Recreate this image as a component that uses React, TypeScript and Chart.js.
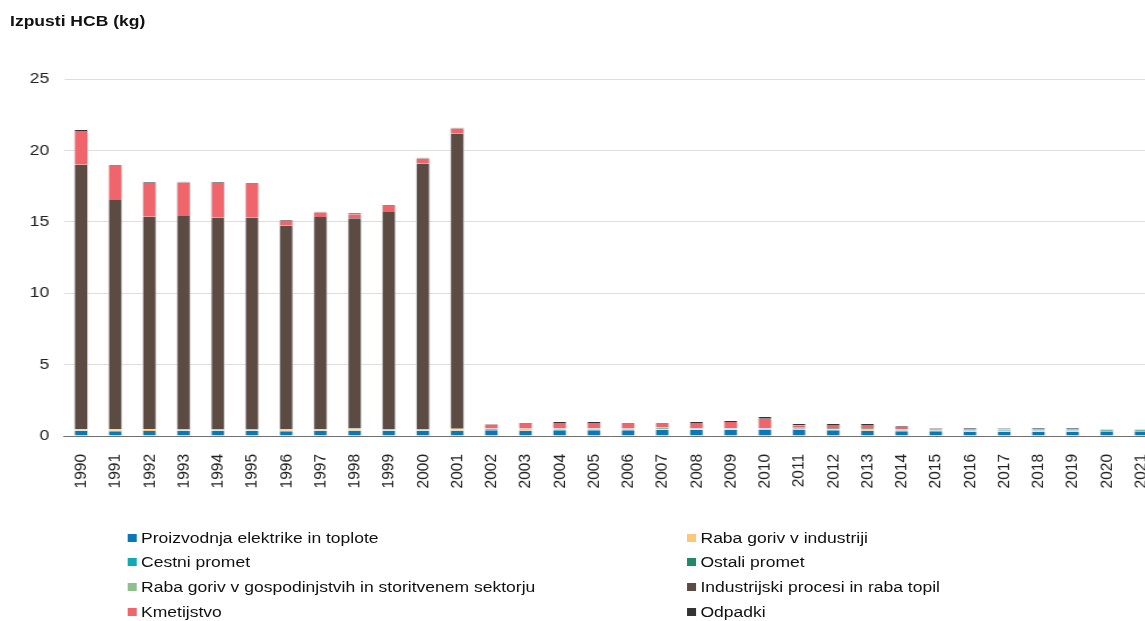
import React, { useEffect, useRef } from "react";
import { Chart, registerables } from "chart.js";

Chart.register(...registerables);

// Years on the category axis
const YEARS = [
  "1990", "1991", "1992", "1993", "1994", "1995", "1996", "1997", "1998", "1999",
  "2000", "2001", "2002", "2003", "2004", "2005", "2006", "2007", "2008", "2009",
  "2010", "2011", "2012", "2013", "2014", "2015", "2016", "2017", "2018", "2019",
  "2020", "2021",
];

// HCB emissions by sector, kg
const ELEKTRIKA = [
  0.36, 0.33, 0.35, 0.36, 0.36, 0.36, 0.33, 0.37, 0.37, 0.36, 0.36, 0.37,
  0.40, 0.36, 0.41, 0.41, 0.41, 0.43, 0.43, 0.43, 0.43, 0.43, 0.40, 0.37, 0.33, 0.33,
  0.28, 0.28, 0.28, 0.28, 0.28, 0.28,
];
const INDUSTRIJA_GORIVA = [
  0.05, 0.08, 0.07, 0.03, 0.03, 0.03, 0.07, 0.03, 0.06, 0.03, 0.03, 0.06,
  0.02, 0.06, 0.02, 0.02, 0.02, 0.02, 0.02, 0.02, 0.02, 0.02, 0.05, 0.05, 0.03, 0.04,
  0.05, 0.05, 0.06, 0.06, 0.02, 0.02,
];
const CESTNI_PROMET = [
  0.02, 0.02, 0.02, 0.02, 0.02, 0.02, 0.02, 0.02, 0.02, 0.02, 0.02, 0.02,
  0.05, 0.04, 0.05, 0.05, 0.04, 0.02, 0.03, 0.03, 0.05, 0.04, 0.03, 0.03, 0.05, 0.03,
  0.05, 0.05, 0.04, 0.04, 0.05, 0.05,
];
const OSTALI_PROMET = [
  0.01, 0.01, 0.01, 0.01, 0.01, 0.01, 0.01, 0.01, 0.01, 0.01, 0.01, 0.01,
  0.01, 0.01, 0.01, 0.01, 0.01, 0.01, 0.01, 0.01, 0.01, 0.01, 0.01, 0.02, 0.01, 0.01,
  0.01, 0.05, 0.02, 0.02, 0.05, 0.05,
];
const GOSPODINJSTVA = [
  0.04, 0.03, 0.03, 0.05, 0.05, 0.05, 0.04, 0.05, 0.06, 0.05, 0.05, 0.05,
  0.02, 0.03, 0.03, 0.03, 0.03, 0.12, 0.03, 0.03, 0.02, 0.02, 0.02, 0.04, 0.02, 0.01,
  0.02, 0.05, 0.02, 0.02, 0.05, 0.05,
];
const INDUSTRIJSKI_PROCESI = [
  18.52, 16.06, 14.88, 14.94, 14.82, 14.82, 14.26, 14.86, 14.72, 15.22, 18.62, 20.66,
  0.02, 0.02, 0.02, 0.02, 0.02, 0.02, 0.02, 0.02, 0.02, 0.05, 0.05, 0.05, 0.02, 0.03,
  0.03, 0.02, 0.04, 0.04, 0.01, 0.01,
];
const KMETIJSTVO = [
  2.36, 2.40, 2.35, 2.34, 2.42, 2.37, 0.35, 0.32, 0.29, 0.44, 0.34, 0.36,
  0.28, 0.33, 0.37, 0.37, 0.33, 0.24, 0.37, 0.44, 0.66, 0.19, 0.21, 0.21, 0.19, 0.07,
  0.07, 0.02, 0.05, 0.05, 0.01, 0.01,
];
const ODPADKI = [
  0.07, 0.05, 0.06, 0.06, 0.06, 0.06, 0.05, 0.05, 0.06, 0.05, 0.06, 0.06,
  0.04, 0.06, 0.07, 0.07, 0.05, 0.05, 0.07, 0.07, 0.12, 0.08, 0.07, 0.07, 0.05, 0.04,
  0.05, 0.04, 0.05, 0.05, 0.02, 0.02,
];

// Y-axis ticks
const Y_TICKS = [0, 5, 10, 15, 20, 25];

const SERIES = [
  { label: "Proizvodnja elektrike in toplote", data: ELEKTRIKA, color: "#0a78b8" },
  { label: "Raba goriv v industriji", data: INDUSTRIJA_GORIVA, color: "#fcc777" },
  { label: "Cestni promet", data: CESTNI_PROMET, color: "#12a9b3" },
  { label: "Ostali promet", data: OSTALI_PROMET, color: "#1e8a66" },
  { label: "Raba goriv v gospodinjstvih in storitvenem sektorju", data: GOSPODINJSTVA, color: "#8fbf8c" },
  { label: "Industrijski procesi in raba topil", data: INDUSTRIJSKI_PROCESI, color: "#5b4b43" },
  { label: "Kmetijstvo", data: KMETIJSTVO, color: "#f0646b" },
  { label: "Odpadki", data: ODPADKI, color: "#333333" },
];

const FONT = "'Liberation Sans', Arial, sans-serif";
const STRETCH = 1.13;
const CANVAS_W = 1050;
const CANVAS_H = 520;

export default function App() {
  const canvasRef = useRef<HTMLCanvasElement | null>(null);

  useEffect(() => {
    document.body.style.margin = "0";
    document.body.style.overflow = "hidden";
    const canvas = canvasRef.current;
    if (!canvas) return;
    const chart = new Chart(canvas, {
      type: "bar",
      data: {
        labels: YEARS,
        datasets: SERIES.map((s) => ({
          label: s.label,
          data: s.data,
          backgroundColor: s.color,
          borderColor: "rgba(205,205,205,0.8)",
          borderWidth: { left: 1, right: 1, top: 0, bottom: 0 },
          borderSkipped: false,
          categoryPercentage: 1,
          barPercentage: 0.42,
        })),
      },
      options: {
        responsive: false,
        animation: false,
        devicePixelRatio: 1,
        layout: { padding: { top: 79, right: CANVAS_W - 1024.8, bottom: 0, left: 0 } },
        plugins: {
          legend: { display: false },
          tooltip: { enabled: false },
        },
        scales: {
          x: {
            stacked: true,
            grid: { display: false },
            border: { display: true, color: "#707070", width: 1 },
            ticks: {
              autoSkip: false,
              minRotation: 90,
              maxRotation: 90,
              padding: 10,
              color: "#222",
              font: { family: FONT, size: 15.5 },
            },
            afterFit: (scale: any) => {
              scale.height = CANVAS_H - 436;
            },
          },
          y: {
            stacked: true,
            min: 0,
            max: 25,
            afterBuildTicks: (scale: any) => {
              scale.ticks = Y_TICKS.map((v) => ({ value: v }));
            },
            grid: { color: "#dedede", drawTicks: false, lineWidth: 1 },
            border: { display: false },
            ticks: {
              padding: 13,
              color: "#222",
              font: { family: FONT, size: 15.5 },
            },
            afterFit: (scale: any) => {
              scale.width = 56.6;
            },
          },
        },
      },
    });
    return () => chart.destroy();
  }, []);

  const rowTop = (i: number) => 537.5 + i * 24.8 - 10;

  return (
    <div style={{ position: "relative", width: 1145, height: 621, overflow: "hidden", background: "#fff" }}>
      <div
        style={{
          position: "absolute",
          left: 0,
          top: 0,
          width: CANVAS_W,
          height: 621,
          transform: `scaleX(${STRETCH})`,
          transformOrigin: "0 0",
          fontFamily: FONT,
          color: "#111",
        }}
      >
        <div
          style={{
            position: "absolute",
            left: 8.9,
            top: 13,
            fontWeight: "bold",
            fontSize: 15.5,
            lineHeight: "15.5px",
            whiteSpace: "nowrap",
          }}
        >
          Izpusti HCB (kg)
        </div>
        <canvas
          ref={canvasRef}
          width={CANVAS_W}
          height={CANVAS_H}
          style={{ position: "absolute", left: 0, top: 0, width: CANVAS_W, height: CANVAS_H }}
        />
        {SERIES.map((s, i) => {
          const col = i % 2;
          const row = Math.floor(i / 2);
          return (
            <div
              key={s.label}
              style={{
                position: "absolute",
                left: col === 0 ? 113.3 : 608.4,
                top: rowTop(row),
                height: 20,
                display: "flex",
                alignItems: "center",
                whiteSpace: "nowrap",
                fontSize: 15.5,
              }}
            >
              <span style={{ display: "inline-block", width: 8, height: 8, background: s.color, marginRight: 3.5 }} />
              <span>{s.label}</span>
            </div>
          );
        })}
      </div>
    </div>
  );
}
